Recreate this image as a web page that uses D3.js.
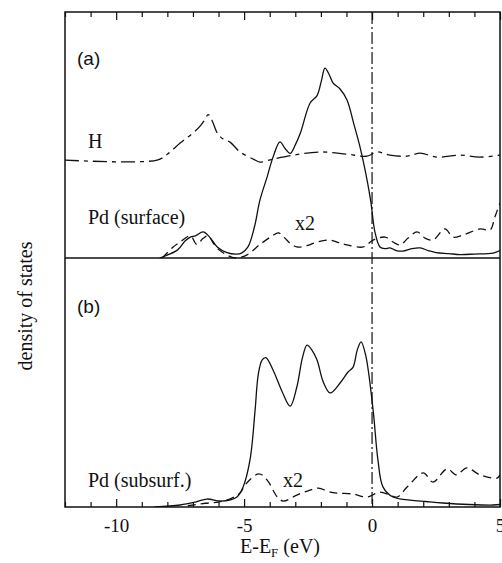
<!DOCTYPE html>
<html><head><meta charset="utf-8">
<script src="https://cdn.jsdelivr.net/npm/d3@7"></script>
<style>body{margin:0;background:#fff}svg{display:block}</style>
</head><body>
<script>
// ---- data (energies in eV, densities in arbitrary units) ----
const xTicksMajor = [-10, -5, 0, 5];
const xTicksMinor = d3.range(-12, 6, 1);

// panel (a): Pd surface (solid)
const pdSurfSolid = [[-8.3,0],[-7.6,0.33],[-7.3,0.7],[-7.1,0.85],[-6.9,0.9],[-6.6,1.06],[-6.35,0.85],[-6.05,0.45],[-5.67,0.22],[-5.3,0.16],[-5.1,0.2],[-4.85,0.45],[-4.6,1.25],[-4.38,2.36],[-4.1,3.3],[-3.87,4.1],[-3.6,4.72],[-3.4,4.45],[-3.2,4.25],[-3.0,4.6],[-2.8,5.08],[-2.42,6.3],[-2.15,6.6],[-1.98,7.2],[-1.84,7.72],[-1.65,7.4],[-1.52,7.11],[-1.25,6.87],[-0.98,6.42],[-0.7,5.4],[-0.47,4.51],[-0.2,3.2],[-0.05,2.3],[0.12,1.02],[0.31,0.45],[0.5,0.38],[0.7,0.41],[0.95,0.3],[1.2,0.28],[1.55,0.38],[1.88,0.41],[2.2,0.3],[2.5,0.22],[3.0,0.18],[3.44,0.14],[4.0,0.16],[4.73,0.2],[5.0,0.3]];
// panel (a): Pd surface x2 (dashed)
const pdSurfDash = [[-8.2,0],[-7.77,0.45],[-7.5,0.65],[-7.1,0.9],[-6.85,0.55],[-6.6,0.8],[-6.4,0.9],[-6.2,0.6],[-6.0,0.35],[-5.67,0.12],[-5.35,0],[-4.9,0.12],[-4.38,0.55],[-3.9,0.9],[-3.66,1.02],[-3.4,0.8],[-3.2,0.6],[-2.94,0.45],[-2.55,0.5],[-2.15,0.65],[-1.64,0.73],[-1.3,0.62],[-0.98,0.53],[-0.34,0.45],[0.04,0.73],[0.51,0.85],[0.82,0.65],[1.09,0.53],[1.41,0.81],[1.76,1.06],[2.07,0.81],[2.38,0.73],[2.85,1.18],[3.16,0.85],[3.55,0.93],[4.22,1.18],[4.61,1.14],[4.8,1.67],[5.0,2.24]];
// panel (a): H (dash-dot), plotted on an offset baseline
const hOffset = 3.98;
const hCurve = [[-12,0],[-8.4,0],[-8.0,0.24],[-7.5,0.69],[-7.0,1.1],[-6.72,1.38],[-6.55,1.62],[-6.4,1.85],[-6.25,1.6],[-6.05,1.1],[-5.85,0.88],[-5.55,0.73],[-5.16,0.33],[-4.64,0.04],[-4.38,-0.08],[-3.87,0.04],[-3.08,0.2],[-2.03,0.33],[-0.98,0.24],[-0.2,0.16],[0.2,0.33],[0.7,0.2],[1.37,0.16],[1.88,0.28],[2.53,0.12],[3.44,0.2],[4.2,0.12],[5.0,0.2]];

// panel (b): Pd subsurface (solid)
const pdSubSolid = [[-8.5,0],[-7.5,0.08],[-6.9,0.2],[-6.45,0.32],[-5.94,0.24],[-5.5,0.3],[-5.28,0.4],[-5.04,0.8],[-4.77,1.89],[-4.57,3.9],[-4.45,5.3],[-4.3,5.9],[-4.15,6.0],[-3.87,5.5],[-3.5,4.6],[-3.2,4.05],[-2.94,4.82],[-2.72,6.0],[-2.54,6.5],[-2.35,6.3],[-2.15,5.9],[-1.9,5.0],[-1.64,4.58],[-1.25,4.98],[-0.94,5.42],[-0.74,5.62],[-0.58,6.3],[-0.43,6.63],[-0.25,6.1],[0.04,3.9],[0.23,1.89],[0.43,0.8],[0.82,0.4],[1.48,0.28],[2.1,0.22],[2.77,0.16],[3.8,0.1],[4.73,0.08],[5.0,0.1]];
// panel (b): Pd subsurface x2 (dashed)
const pdSubDash = [[-7.2,0.05],[-6.5,0.15],[-6.0,0.2],[-5.5,0.35],[-5.16,0.56],[-4.9,0.96],[-4.42,1.33],[-4.1,1.08],[-3.7,0.4],[-3.47,0.24],[-2.94,0.48],[-2.5,0.65],[-2.1,0.76],[-1.7,0.62],[-1.37,0.56],[-0.74,0.52],[-0.2,0.4],[0.31,0.6],[0.7,0.48],[0.98,0.4],[1.37,0.8],[2.0,1.37],[2.38,1.0],[2.93,1.53],[3.3,1.29],[3.7,1.57],[4.22,1.29],[4.88,1.16],[5.0,1.29]];

// ---- layout ----
const W = 502, H = 563;
const L = 65, R = 500, T = 12, MID = 258, B = 507;
const SERIF = "'Liberation Serif', 'DejaVu Serif', 'Times New Roman', Times, serif";
const SANS = "'Liberation Sans', 'DejaVu Sans', Arial, sans-serif";

const svg = d3.select("body").append("svg").attr("width", W).attr("height", H);

const x = d3.scaleLinear().domain([-12, 5]).range([L, R]);
const ya = d3.scaleLinear().domain([0, 10]).range([MID, T]);
const yb = d3.scaleLinear().domain([0, 10]).range([B, MID]);

svg.append("clipPath").attr("id", "c").append("rect")
  .attr("x", L).attr("y", T).attr("width", R - L).attr("height", B - T);

const g = svg.append("g").attr("clip-path", "url(#c)");

function line(yScale, off) {
  return d3.line().x(d => x(d[0])).y(d => yScale(d[1] + (off || 0))).curve(d3.curveCatmullRom.alpha(0.5));
}

const stroke = "#111";
function draw(data, ys, off, dash) {
  const p = g.append("path").datum(data).attr("d", line(ys, off)).attr("fill", "none")
    .attr("stroke", stroke).attr("stroke-width", 1.3).attr("stroke-linejoin", "round");
  if (dash) p.attr("stroke-dasharray", dash);
}
draw(pdSurfSolid, ya, 0, null);
draw(pdSurfDash, ya, 0, "8,5");
draw(hCurve, ya, hOffset, "14,5,4,5");
draw(pdSubSolid, yb, 0, null);
draw(pdSubDash, yb, 0, "8,5");

// Fermi level
svg.append("line").attr("x1", x(0)).attr("x2", x(0)).attr("y1", T).attr("y2", B)
  .attr("stroke", stroke).attr("stroke-width", 1.2).attr("stroke-dasharray", "12,3,2,3");

// frame
svg.append("rect").attr("x", L).attr("y", T).attr("width", R - L).attr("height", B - T)
  .attr("fill", "none").attr("stroke", stroke).attr("stroke-width", 1.5);
svg.append("line").attr("x1", L).attr("x2", R).attr("y1", MID).attr("y2", MID)
  .attr("stroke", stroke).attr("stroke-width", 1.5);

// ticks (inward, top and bottom)
const minor = xTicksMinor.filter(v => !xTicksMajor.includes(v));
const fmt = d => (d < 0 ? "-" + Math.abs(d) : String(d));
const ba = svg.append("g").attr("transform", `translate(0,${B})`)
  .call(d3.axisBottom(x).tickValues(xTicksMajor).tickSize(-8).tickFormat(fmt).tickPadding(12));
const bm = svg.append("g").attr("transform", `translate(0,${B})`).call(d3.axisBottom(x).tickValues(minor).tickSize(-5).tickFormat(""));
const ta = svg.append("g").attr("transform", `translate(0,${T})`).call(d3.axisTop(x).tickValues(xTicksMajor).tickSize(-8).tickFormat(""));
const tm = svg.append("g").attr("transform", `translate(0,${T})`).call(d3.axisTop(x).tickValues(minor).tickSize(-5).tickFormat(""));
[ba, bm, ta, tm].forEach(a => {
  a.select(".domain").remove();
  a.selectAll(".tick line").attr("stroke", stroke).attr("stroke-width", 1.2);
});
ba.attr("font-family", SERIF).attr("font-size", 19);
ba.selectAll(".tick text").style("font-family", SERIF).style("font-size", "19px").attr("fill", stroke);

// texts
function txt(s, px, py, fam, size, anchor) {
  return svg.append("text").attr("x", px).attr("y", py).style("font-family", fam).style("font-size", size + "px")
    .attr("fill", stroke).attr("text-anchor", anchor || "start").text(s);
}
txt("(a)", 77, 65, SANS, 19);
txt("(b)", 77, 313, SANS, 19);
txt("H", 88, 148, SERIF, 20);
txt("Pd (surface)", 88, 224, SERIF, 20);
txt("x2", 295, 230, SERIF, 20);
txt("Pd (subsurf.)", 88, 487, SERIF, 20);
txt("x2", 283, 487, SERIF, 20);

const xl = svg.append("text").attr("x", 280).attr("y", 553).style("font-family", SERIF).style("font-size", "20px")
  .attr("fill", stroke).attr("text-anchor", "middle");
xl.append("tspan").text("E-E");
xl.append("tspan").style("font-size", "13px").attr("dy", 4).text("F");
xl.append("tspan").attr("dy", -4).text(" (eV)");

svg.append("text").attr("transform", "translate(32,306) rotate(-90)").style("font-family", SERIF).style("font-size", "20px")
  .attr("fill", stroke).attr("text-anchor", "middle").text("density of states");
</script>
</body></html>
